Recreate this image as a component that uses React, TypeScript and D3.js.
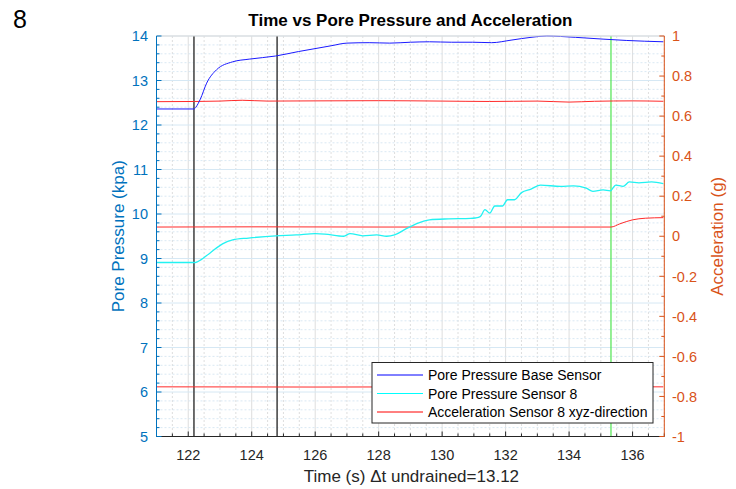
import React from "react";
import * as d3 from "d3";

// ---------- data ----------
const baseTime = [121.0, 122.18, 122.24, 122.38, 122.58, 122.89, 123.4, 123.92, 124.75, 125.47, 126.5, 127.0, 127.7, 128.35, 129.0, 129.6, 130.3, 130.95, 131.56, 132.2, 132.8, 133.3, 133.73, 134.2, 135.07, 135.8, 136.97];
const basePressure = [12.36, 12.36, 12.4, 12.58, 12.94, 13.24, 13.42, 13.48, 13.55, 13.65, 13.78, 13.84, 13.85, 13.84, 13.86, 13.87, 13.86, 13.86, 13.85, 13.91, 13.97, 14.0, 13.99, 13.97, 13.93, 13.9, 13.87];

const s8Time = [121.0, 122.22, 122.3, 122.68, 123.08, 123.4, 123.9, 124.76, 125.4, 126.0, 126.3, 126.9, 127.1, 127.5, 127.94, 128.25, 128.5, 128.87, 129.18, 129.6, 130.2, 130.9, 131.04, 131.2, 131.35, 131.5, 131.66, 131.9, 132.06, 132.28, 132.5, 132.8, 133.1, 133.73, 134.14, 134.54, 134.75, 135.07, 135.3, 135.47, 135.7, 135.9, 136.2, 136.6, 136.97];
const s8Pressure = [8.91, 8.91, 8.93, 9.12, 9.33, 9.42, 9.46, 9.51, 9.53, 9.56, 9.55, 9.5, 9.56, 9.51, 9.53, 9.5, 9.53, 9.67, 9.78, 9.87, 9.89, 9.9, 9.91, 9.94, 10.1, 10.02, 10.18, 10.18, 10.32, 10.32, 10.48, 10.56, 10.65, 10.62, 10.63, 10.58, 10.51, 10.54, 10.52, 10.65, 10.62, 10.72, 10.7, 10.72, 10.68];

const accTopTime = [121.0, 122.2, 123.0, 123.7, 124.5, 126.0, 128.0, 130.0, 131.5, 133.0, 134.0, 134.8, 136.0, 136.97];
const accTop = [0.672, 0.673, 0.675, 0.679, 0.675, 0.676, 0.677, 0.675, 0.673, 0.675, 0.670, 0.674, 0.676, 0.674];

const accMidTime = [121.0, 124.0, 128.0, 132.0, 135.32, 135.6, 136.0, 136.4, 136.97];
const accMid = [0.046, 0.047, 0.046, 0.046, 0.046, 0.062, 0.082, 0.09, 0.093];

const accLowTime = [121.0, 126.0, 131.0, 136.97];
const accLow = [-0.752, -0.753, -0.752, -0.752];

const blackMarkers = [122.18, 124.8];
const greenMarkers = [135.32];

const xTicks = [122, 124, 126, 128, 130, 132, 134, 136];
const leftTicks = [5, 6, 7, 8, 9, 10, 11, 12, 13, 14];
const rightTicks = [-1, -0.8, -0.6, -0.4, -0.2, 0, 0.2, 0.4, 0.6, 0.8, 1];

const legendLabels = ["Pore Pressure Base Sensor", "Pore Pressure Sensor 8", "Acceleration Sensor 8 xyz-direction"];

// ---------- style ----------
const W = 736, H = 489;
const L = 156.5, R = 664.3, T = 36, B = 436.5;
const leftColor = "#0072BD";
const rightColor = "#D95319";
const axisDark = "#262626";
const font = "'Liberation Sans', Arial, Helvetica, sans-serif";

export default function App() {
  const x = d3.scaleLinear().domain([121, 137]).range([L, R]);
  const yL = d3.scaleLinear().domain([5, 14]).range([B, T]);
  const yR = d3.scaleLinear().domain([-1, 1]).range([B, T]);

  const mkLine = (ts: number[], vs: number[], ys: d3.ScaleLinear<number, number>) =>
    d3.line<number>().x((_, i) => x(ts[i])).y((v) => ys(v)).curve(d3.curveMonotoneX)(vs) || "";

  const xMinor = d3.range(121, 137.01, 0.5).filter((v) => !xTicks.includes(v));
  const xMajorGrid = d3.range(121, 137.01, 1).filter((v) => v % 2 === 0);
  const yMinor = d3.range(5, 14.001, 0.2).map((v) => +v.toFixed(1)).filter((v) => Math.abs(v - Math.round(v)) > 0.01);
  const rMinor = d3.range(-1, 1.001, 0.1).map((v) => +v.toFixed(1)).filter((v) => Math.abs(v * 5 - Math.round(v * 5)) > 0.01);

  const legX = 372, legY = 362.5, legW = 281, legH = 60.5;
  const legColors = ["#0000ff", "#00ffff", "#ff0000"];

  return (
    <div style={{ position: "absolute", left: 0, top: 0 }}>
      <svg width={W} height={H} style={{ display: "block", background: "#fff", fontFamily: font }}>
        <text x={13} y={28} fontSize={25} fill="#000">8</text>

        {/* grid */}
        <g>
          {xMinor.map((v) => (
            <line key={"xm" + v} x1={x(v)} x2={x(v)} y1={T} y2={B} stroke="#d6d6d6" strokeWidth={0.8} strokeDasharray="2,2" />
          ))}
          {xMajorGrid.map((v) => (
            <line key={"xg" + v} x1={x(v)} x2={x(v)} y1={T} y2={B} stroke="#dedede" strokeWidth={1} />
          ))}
          {yMinor.map((v) => (
            <line key={"ym" + v} x1={L} x2={R} y1={yL(v)} y2={yL(v)} stroke="#cfe2f0" strokeWidth={0.8} strokeDasharray="2,2" />
          ))}
          {leftTicks.map((v) => (
            <line key={"yg" + v} x1={L} x2={R} y1={yL(v)} y2={yL(v)} stroke="#d6e8f4" strokeWidth={1} />
          ))}
        </g>

        {/* markers */}
        {blackMarkers.map((v) => (
          <line key={"bk" + v} x1={x(v)} x2={x(v)} y1={T} y2={B} stroke="#4a4a4a" strokeWidth={1.6} />
        ))}
        {greenMarkers.map((v) => (
          <line key={"gr" + v} x1={x(v)} x2={x(v)} y1={T} y2={B} stroke="#4ee44e" strokeWidth={1.2} />
        ))}

        {/* data lines */}
        <path d={mkLine(accTopTime, accTop, yR)} fill="none" stroke="#ff2a2a" strokeWidth={1} />
        <path d={mkLine(accMidTime, accMid, yR)} fill="none" stroke="#ff2a2a" strokeWidth={1} />
        <path d={mkLine(accLowTime, accLow, yR)} fill="none" stroke="#ff2a2a" strokeWidth={1} />
        <path d={mkLine(baseTime, basePressure, yL)} fill="none" stroke="#1a1aff" strokeWidth={1} />
        <path d={mkLine(s8Time, s8Pressure, yL)} fill="none" stroke="#22f2f2" strokeWidth={1.3} />

        {/* top border */}
        <line x1={L} x2={R} y1={T} y2={T} stroke="#d9d9d9" strokeWidth={1} />

        {/* bottom axis */}
        <line x1={L} x2={R} y1={B} y2={B} stroke={axisDark} strokeWidth={1} />
        {xTicks.map((v) => (
          <g key={"xt" + v}>
            <line x1={x(v)} x2={x(v)} y1={B} y2={B - 5} stroke={axisDark} strokeWidth={1} />
            <text x={x(v)} y={460} fontSize={14.5} fill={axisDark} textAnchor="middle">{v}</text>
          </g>
        ))}
        {xMinor.map((v) => (
          <line key={"xmt" + v} x1={x(v)} x2={x(v)} y1={B} y2={B - 3} stroke={axisDark} strokeWidth={1} />
        ))}
        <text x={(L + R) / 2 + 1} y={482} fontSize={17} fill={axisDark} textAnchor="middle">Time (s) Δt undrained=13.12</text>

        {/* left axis */}
        <line x1={L} x2={L} y1={T} y2={B} stroke={leftColor} strokeWidth={1} />
        {leftTicks.map((v) => (
          <g key={"lt" + v}>
            <line x1={L} x2={L + 5} y1={yL(v)} y2={yL(v)} stroke={leftColor} strokeWidth={1} />
            <text x={148} y={yL(v)} dy="0.36em" fontSize={14.5} fill={leftColor} textAnchor="end">{v}</text>
          </g>
        ))}
        {yMinor.map((v) => (
          <line key={"lmt" + v} x1={L} x2={L + 3} y1={yL(v)} y2={yL(v)} stroke={leftColor} strokeWidth={1} />
        ))}
        <text transform={`translate(124,${(T + B) / 2}) rotate(-90)`} fontSize={17} fill={leftColor} textAnchor="middle">Pore Pressure (kpa)</text>

        {/* right axis */}
        <line x1={R} x2={R} y1={T} y2={B} stroke={rightColor} strokeWidth={1} />
        {rightTicks.map((v) => (
          <g key={"rt" + v}>
            <line x1={R} x2={R - 5} y1={yR(v)} y2={yR(v)} stroke={rightColor} strokeWidth={1} />
            <text x={672} y={yR(v)} dy="0.36em" fontSize={14.5} fill={rightColor} textAnchor="start">{String(+v.toFixed(1))}</text>
          </g>
        ))}
        {rMinor.map((v) => (
          <line key={"rmt" + v} x1={R} x2={R - 3} y1={yR(v)} y2={yR(v)} stroke={rightColor} strokeWidth={1} />
        ))}
        <text transform={`translate(723,${(T + B) / 2}) rotate(-90)`} fontSize={17} fill={rightColor} textAnchor="middle">Acceleration (g)</text>

        {/* title */}
        <text x={(L + R) / 2} y={26} fontSize={17} fontWeight="bold" fill="#000" textAnchor="middle">Time vs Pore Pressure and Acceleration</text>

        {/* legend */}
        <g>
          <rect x={legX} y={legY} width={legW} height={legH} fill="#fff" stroke={axisDark} strokeWidth={1} />
          {legendLabels.map((lab, i) => {
            const cy = legY + 12.5 + i * 18.5;
            return (
              <g key={lab}>
                <line x1={legX + 5} x2={legX + 51} y1={cy} y2={cy} stroke={legColors[i]} strokeWidth={1} />
                <text x={legX + 56} y={cy} dy="0.36em" fontSize={14} fill="#000">{lab}</text>
              </g>
            );
          })}
        </g>
      </svg>
    </div>
  );
}
